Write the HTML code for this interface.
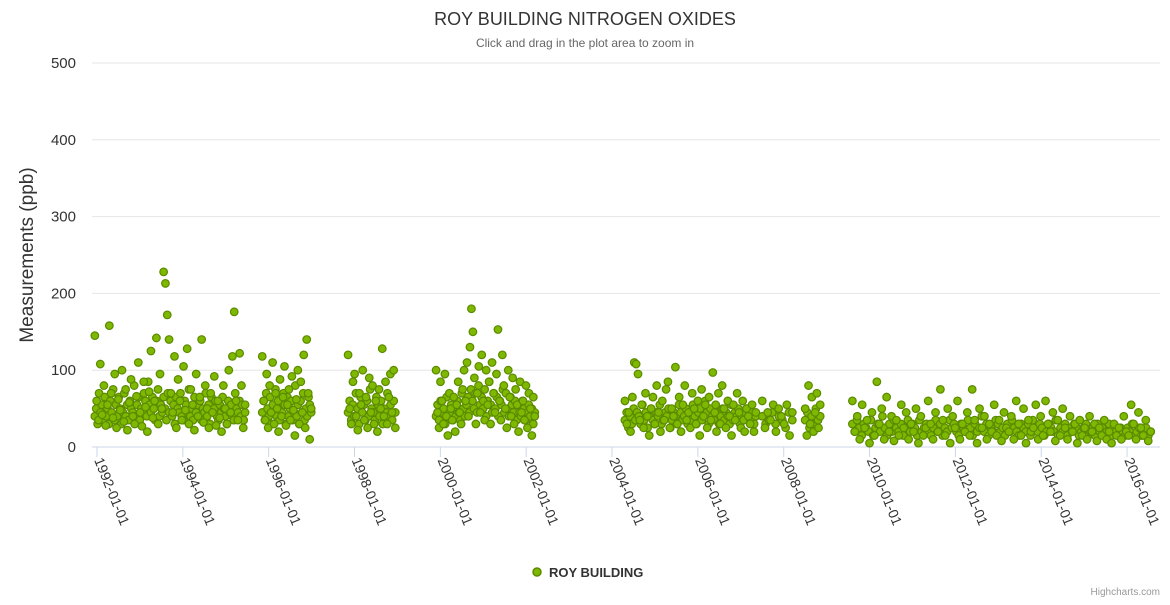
<!DOCTYPE html>
<html><head><meta charset="utf-8"><style>
body{margin:0;background:#fff;font-family:"Liberation Sans",sans-serif}
svg text{font-family:"Liberation Sans",sans-serif}
</style></head><body>
<svg id="c" width="1170" height="600">
<text x="585" y="25" text-anchor="middle" font-size="18" fill="#333">ROY BUILDING NITROGEN OXIDES</text>
<text x="585" y="47" text-anchor="middle" font-size="12" fill="#666">Click and drag in the plot area to zoom in</text>
<text transform="translate(33,255) rotate(-90)" text-anchor="middle" font-size="19" fill="#333">Measurements (ppb)</text>
<g id="grid"></g><g id="xt"></g><g id="pts"></g>
<g>
<circle cx="537" cy="572" r="4" fill="#7fb800" stroke="#5a8a00" stroke-width="1.5"/>
<text x="549" y="577" font-size="13" font-weight="bold" fill="#333">ROY BUILDING</text>
</g>
<text x="1160" y="595" text-anchor="end" font-size="10" fill="#999">Highcharts.com</text>
</svg>
<script>
const yTicks=[0,100,200,300,400,500];
const xTickYears=[1992,1994,1996,1998,2000,2002,2004,2006,2008,2010,2012,2014,2016];
const segStart=[1991.95,1995.85,1997.85,1999.9,2004.3,2007.5,2008.5,2009.6];
const segEnd=[1995.45,1996.99,1998.95,2002.2,2007.35,2008.2,2008.85,2016.55];
const segValues=[
"145 60 35 108 42 80 28 55 158 70 38 95 25 62 48 100 33 75 22 58 88 40 30 66 110 45 27 85 52 20 72 125 38 60 142 30 95 50 228 213 172 140 70 45 118 25 88 60 35 105 48 128 30 75 55 22 95 40 65 140 32 80 50 25 70 45 92 28 60 38 20 80 50 30 100 45 118 176 60 35 122 80 25 55",
"118 60 35 95 25 80 45 110 30 70 50 20 88 40 65 105 28 55 75 35 92 48 15 62 100 30 85 45 120 25 140 70 10 50",
"120 50 30 85 95 40 22 70 55 100 35 65 25 90 45 80 30 60 20 75 50 128 40 85 30 65 95 45 100 25",
"100 45 25 85 60 30 95 40 15 70 50 35 65 20 55 85 45 30 75 100 60 110 40 130 180 150 90 30 70 105 45 120 60 35 100 55 85 30 110 70 45 95 153 60 35 120 80 50 25 100 65 40 90 30 75 55 20 85 45 60 35 80 25 70 50 15 65 40",
"60 30 45 20 65 110 108 95 35 55 25 70 40 15 50 65 30 80 45 20 60 35 75 85 25 50 40 104 30 65 20 55 80 35 45 25 70 50 30 60 15 75 40 55 25 65 35 97 45 20 70 30 80 50 25 60 40 15 55 35 70 45 25 60 20 50 40 30 55 20 45",
"60 25 45 35 55 20 50 40 30 55 15 45",
"50 15 80 30 65 20 45 70 25 55",
"60 20 40 10 55 25 35 5 45 15 85 30 50 10 65 20 40 8 35 15 55 25 45 10 30 20 50 5 40 15 25 60 30 10 45 20 75 35 15 50 5 40 25 60 10 30 20 45 15 75 35 5 50 25 40 10 30 20 55 15 35 8 45 25 20 40 10 60 30 15 50 5 35 20 25 55 10 40 15 60 30 20 45 8 35 15 50 25 10 40 20 30 5 35 15 25 10 40 20 30 8 25 15 35 10 20 5 30 15 25 10 40 20 15 55 30 10 45 25 15 35 8 20"
];
const segValues2=[
"40 50 30 70 45 55 35 65 40 50 30 60 45 75 35 55 40 65 50 30 45 70 40 55 35 60 50 45 80 40 55 65 35 50 45 70 60 40 85 55 45 65 50 35 60 75 40 55 45 65 50 35 70 45 60 40 55 30 65 50 45 70 40 35 60 55 45 75 40 50 35 65 45 55 40 60 35 50 45 70 40 55 30 65 45 50 60 40 35 55 45 65 50 40 30 60 45 55 40 35 70 50 45 60 40 55 35 45",
"45 60 35 70 50 40 65 30 55 45 75 40 60 35 50 45 70 55 30 65 40 50 60 35 45 80 40 55 30 60 45 70 35 50 40 65 55 45",
"45 60 35 55 40 70 50 30 65 45 55 35 60 40 75 50 45 35 65 55 40 60 30 50 45 70 40 55 35 60 45",
"40 55 35 60 45 50 30 65 40 45 55 35 50 40 60 45 35 70 50 40 55 65 45 75 60 50 70 45 80 55 65 50 75 40 60 85 55 45 70 50 65 40 60 55 75 45 70 50 40 65 55 45 60 35 55 45 40 60 50 35 45 55 40 50 30 45",
"35 45 25 40 30 50 35 45 40 30 55 35 45 25 40 50 35 30 45 40 55 30 35 45 40 50 25 35 45 40 30 55 45 35 40 50 30 45 35 55 40 30 45 50 35 40 60 45 30 50 40 35 55 45 30 40 50 35 45 40 30 55 35 45 40 50 30 40 35 45 50 40 35 45 30 40",
"40 30 35 45 30 40 35 25 45 35",
"35 45 25 40 30 50 35 40",
"30 20 35 25 15 30 25 20 35 15 25 30 20 40 25 15 30 20 35 25 20 30 15 25 35 20 30 25 15 35 20 25 30 20 15 25 35 20 30 15 25 20 35 25 30 20 15 30 25 20 35 25 15 30 20 25 40 20 30 15 25 20 35 30 20 25 15 30 20 35 25 20 15 30 25 20 30 15 35 25 20 30 25 15 20 30 25 20 35 15 25 20 30 15 25 20 30 25 15 20 25 30 15 20 25 15 30 20 25 15 20 30 15 25 20 15 25 20 15 25 20 30 15 20 25 15 20 25 15 20"
];
const NS="http://www.w3.org/2000/svg";
const X=t=>97+(t-1992)*42.92;
const Y=v=>447-v*0.768;
function mk(tag,at,parent){const e=document.createElementNS(NS,tag);for(const k in at)e.setAttribute(k,at[k]);parent.appendChild(e);return e;}
const grid=document.getElementById('grid');
yTicks.forEach(v=>{
 const l=mk('line',{x1:92,x2:1160,y1:Y(v),y2:Y(v),stroke:v===0?'#ccd6eb':'#e6e6e6','stroke-width':1},grid);
 
 
 const t=mk('text',{x:76,y:Y(v)+5,'text-anchor':'end','font-size':15,fill:'#333'},grid);
 t.textContent=v;
 
 
});
const xt=document.getElementById('xt');
xTickYears.forEach(yr=>{
 const x=X(yr);
 const tk=mk('line',{x1:x,x2:x,y1:447,y2:457,stroke:'#ccd6eb'},xt);
 
 
 const t=mk('text',{transform:`translate(${x-3},${460}) rotate(68)`,'font-size':14,fill:'#333'},xt);
 t.textContent=yr+'-01-01';
 
 
});
const pts=document.getElementById('pts');
function drawSet(set){
 set.forEach((s,i)=>{
  const vals=s.trim().split(/\s+/).map(Number);
  const n=vals.length;
  vals.forEach((v,j)=>{
   const t=segStart[i]+(segEnd[i]-segStart[i])*j/(n-1);
   const c=mk('circle',{cx:X(t),cy:Y(v),r:3.8,fill:'#7fb800',stroke:'#5a8a00','stroke-width':1.2},pts);
   
   
  });
 });
}
drawSet(segValues2);
drawSet(segValues);
</script>
</body></html>
